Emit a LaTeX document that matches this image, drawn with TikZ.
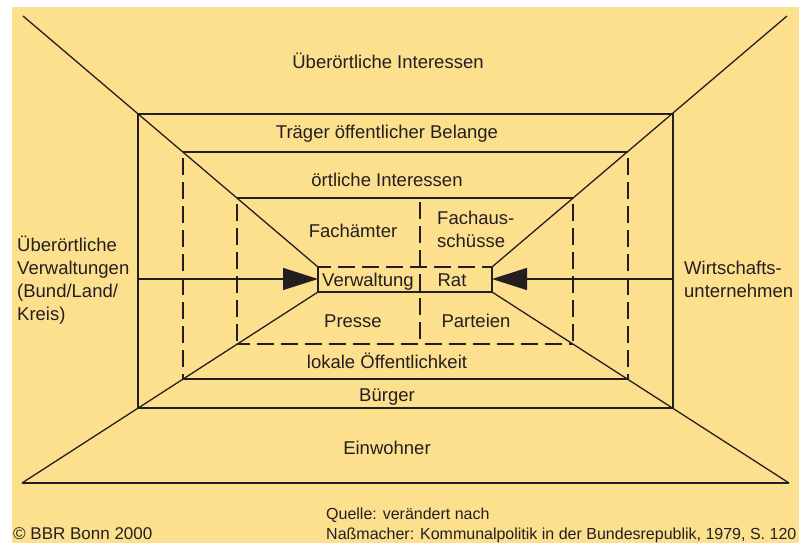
\documentclass[tikz,border=0pt]{standalone}
\usepackage{fontspec}
\setmainfont{Liberation Sans}
\usetikzlibrary{arrows.meta}
\definecolor{bg}{RGB}{253,224,142}
\definecolor{ink}{RGB}{35,31,32}
\begin{document}
\begin{tikzpicture}[x=1pt,y=-1pt,
  ln/.style={draw=ink, line width=1.3},
  dsh/.style={draw=ink, line width=1.3, dash pattern=on 17pt off 7pt},
  arr/.style={ln, -{Triangle[length=35pt,width=22pt]}},
  lbl/.style={font=\fontsize{18.5}{23}\selectfont, text=ink, inner sep=0pt, anchor=base},
  lblw/.style={lbl, anchor=base west, align=left},
  small/.style={font=\fontsize{16}{20}\selectfont, text=ink, inner sep=0pt, anchor=base west}]
% canvas
\fill[white] (0,0) rectangle (807,543);
\fill[bg] (12,7) rectangle (799,543);
% coordinates
\coordinate (OTL) at (23,16);  \coordinate (OTR) at (787,16);
\coordinate (OBL) at (22,483); \coordinate (OBR) at (789,483);
\coordinate (A1) at (138,114); \coordinate (A2) at (673,114);
\coordinate (A3) at (673,408); \coordinate (A4) at (138,408);
\coordinate (B1) at (183,152); \coordinate (B2) at (628,152);
\coordinate (B3) at (628,379); \coordinate (B4) at (183,379);
\coordinate (C1) at (237,198); \coordinate (C2) at (573,198);
\coordinate (C3) at (573,344); \coordinate (C4) at (237,344);
\coordinate (I1) at (318,267); \coordinate (I2) at (492,267);
\coordinate (I3) at (492,292); \coordinate (I4) at (318,292);
\coordinate (MT) at (420,198); \coordinate (MB) at (420,344);
\coordinate (AL) at (138,279); \coordinate (IL) at (318,279);
\coordinate (AR) at (673,279); \coordinate (IR) at (492,279);
% diagonals and base
\draw[ln] (OTL) -- (I1);
\draw[ln] (OTR) -- (I2);
\draw[ln] (OBL) -- (I4);
\draw[ln] (OBR) -- (I3);
\draw[ln] (OBL) -- (OBR);
% outer rectangle
\draw[ln] (A1) -- (A2) -- (A3) -- (A4) -- cycle;
% second frame
\draw[ln] (B1) -- (B2);
\draw[ln] (B4) -- (B3);
\draw[dsh, dash phase=18pt] (B1) -- (B4);
\draw[dsh, dash phase=18pt] (B2) -- (B3);
% third frame
\draw[ln] (C1) -- (C2);
\draw[dsh, dash phase=4pt] (C4) -- (C3);
\draw[dsh, dash phase=18pt] (C1) -- (C4);
\draw[dsh, dash phase=18pt] (C2) -- (C3);
\draw[dsh, dash phase=20pt] (MT) -- (MB);
% inner box
\draw[dsh, dash phase=4pt] (I1) -- (I2);
\draw[ln] (I1) -- (I4) -- (I3) -- (I2);
% arrows
\draw[arr] (AL) -- (IL);
\draw[arr] (AR) -- (IR);
% labels
\node[lbl] (t1) at (388,69) {Überörtliche Interessen};
\node[lbl] (t2) at (387,139) {Träger öffentlicher Belange};
\node[lbl] (t3) at (387,186) {örtliche Interessen};
\node[lbl] (t4) at (353,237) {Fachämter};
\node[lblw] (t5) at (437,247) {Fachaus-\\schüsse};
\node[lbl] (t6) at (368,286) {Verwaltung};
\node[lbl] (t7) at (452,286) {Rat};
\node[lbl] (t8) at (353,327) {Presse};
\node[lbl] (t9) at (476,327) {Parteien};
\node[lbl] (t10) at (387,368) {lokale Öffentlichkeit};
\node[lbl] (t11) at (387,401) {Bürger};
\node[lbl] (t12) at (387,454) {Einwohner};
\node[lblw] (t13) at (17,320) {Überörtliche\\Verwaltungen\\(Bund/Land/\\Kreis)};
\node[lblw] (t14) at (684,297) {Wirtschafts-\\unternehmen};
\node[small, font=\fontsize{17}{20}\selectfont] (c1) at (13,539) {© BBR Bonn 2000};
\node[small] (q1) at (326,519) {Quelle: verändert nach};
\node[small] (q2) at (326,539) {Naßmacher: Kommunalpolitik in der Bundesrepublik, 1979, S. 120};
\end{tikzpicture}
\end{document}
